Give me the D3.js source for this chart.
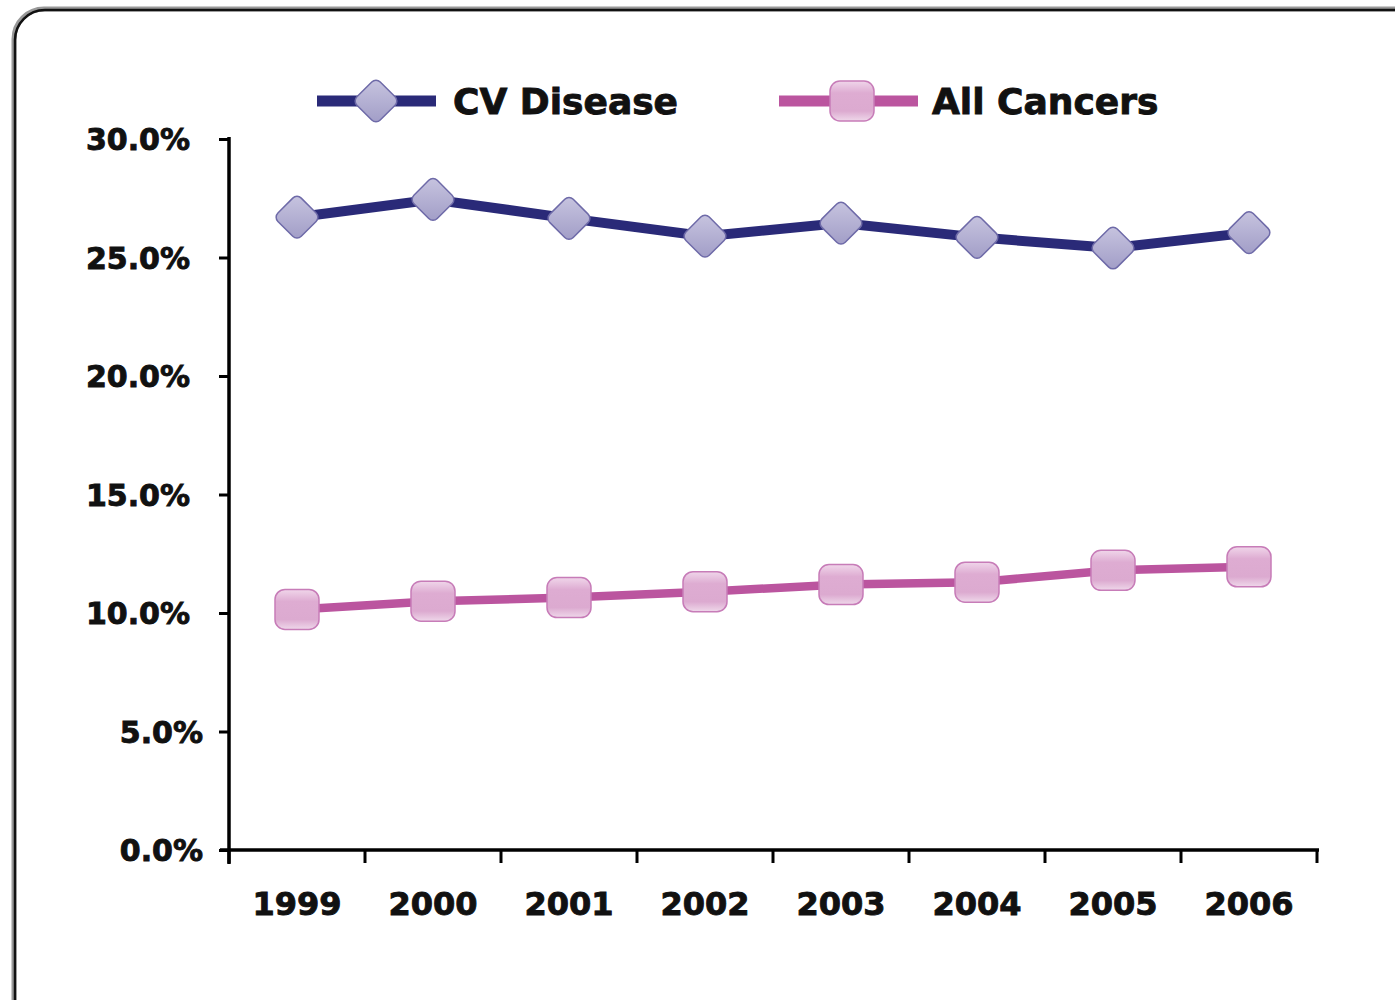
<!DOCTYPE html>
<html lang="en">
  <head>
    <meta charset="UTF-8" />
    <title>CV Disease vs All Cancers</title>
    <style>
      body { margin: 0; background: #fff; }
      svg text { font-family: "DejaVu Sans", sans-serif; font-weight: bold; fill: #111; stroke: #111; stroke-width: 0.9px; }
    </style>
  </head>
  <body>
    <div class="chart"></div>

    <script src="https://cdn.jsdelivr.net/npm/d3@7"></script>
    <script>
    // data
    var years = ["1999", "2000", "2001", "2002", "2003", "2004", "2005", "2006"];
    var cvDisease = [26.7, 27.45, 26.65, 25.9, 26.45, 25.85, 25.4, 26.05];
    var allCancers = [10.15, 10.5, 10.65, 10.9, 11.2, 11.3, 11.8, 11.95];
    var yTicks = [0, 5, 10, 15, 20, 25, 30];
    var seriesNames = ["CV Disease", "All Cancers"];

    var w = 1395, h = 1000;
    var svg = d3.select(".chart").append("svg")
      .attr("width", w)
      .attr("height", h);

    var defs = svg.append("defs");
    var g1 = defs.append("linearGradient").attr("id", "cvFill")
      .attr("x1", 0).attr("y1", 0).attr("x2", 1).attr("y2", 1);
    g1.append("stop").attr("offset", "0%").attr("stop-color", "#c8c5e0");
    g1.append("stop").attr("offset", "100%").attr("stop-color", "#a09cc6");
    var g2 = defs.append("linearGradient").attr("id", "caFill")
      .attr("x1", 0).attr("y1", 0).attr("x2", 0).attr("y2", 1);
    g2.append("stop").attr("offset", "0%").attr("stop-color", "#f0d6ea");
    g2.append("stop").attr("offset", "30%").attr("stop-color", "#deacd2");
    g2.append("stop").attr("offset", "75%").attr("stop-color", "#dcaad0");
    g2.append("stop").attr("offset", "100%").attr("stop-color", "#efd8ea");

    // frame
    svg.append("rect")
      .attr("x", 14).attr("y", 9)
      .attr("width", 1430).attr("height", 1030)
      .attr("rx", 30)
      .attr("fill", "none")
      .attr("stroke", "#999")
      .attr("stroke-width", 5);
    svg.append("rect")
      .attr("x", 15).attr("y", 10)
      .attr("width", 1430).attr("height", 1030)
      .attr("rx", 30)
      .attr("fill", "none")
      .attr("stroke", "#111")
      .attr("stroke-width", 2.5);

    var x = d3.scaleBand().domain(years).range([229, 1317]);
    var y = d3.scaleLinear().domain([0, 30]).range([850, 139]);

    // y axis
    var yAxis = svg.append("g").attr("transform", "translate(229,0)")
      .call(d3.axisLeft(y).tickValues(yTicks).tickSize(10).tickFormat(function(d) { return d.toFixed(1) + "%"; }));
    yAxis.select(".domain").remove();
    yAxis.append("line").attr("x1", 0).attr("x2", 0).attr("y1", 137).attr("y2", 864)
      .attr("stroke", "#000").attr("stroke-width", 3.5);
    yAxis.selectAll(".tick line").attr("stroke", "#000").attr("stroke-width", 3);
    yAxis.selectAll(".tick text")
      .attr("x", function(d) { return d < 10 ? -26 : -39; })
      .attr("dy", "0.36em")
      .style("font-size", "30px")
      .style("font-family", "DejaVu Sans")
      .style("font-weight", "bold")
      .attr("fill", "#111");

    // x axis
    var xAxis = svg.append("g").attr("transform", "translate(0,850)");
    xAxis.append("line").attr("x1", 220).attr("x2", 1319).attr("y1", 0).attr("y2", 0)
      .attr("stroke", "#000").attr("stroke-width", 3.5);
    var edges = years.map(function(d) { return x(d); }).concat([x.range()[1]]);
    xAxis.selectAll(".xt").data(edges).enter().append("line")
      .attr("x1", function(d) { return d; }).attr("x2", function(d) { return d; })
      .attr("y1", 0).attr("y2", 13)
      .attr("stroke", "#000").attr("stroke-width", 3);
    xAxis.selectAll(".xl").data(years).enter().append("text")
      .attr("x", function(d) { return x(d) + x.bandwidth() / 2; })
      .attr("y", 65)
      .attr("text-anchor", "middle")
      .style("font-size", "32px")
      .text(function(d) { return d; });

    var cx = function(d, i) { return x(years[i]) + x.bandwidth() / 2; };
    var line = d3.line().x(cx).y(function(d) { return y(d); });

    function diamond(sel) {
      sel.append("rect")
        .attr("x", -16.5).attr("y", -16.5).attr("width", 33).attr("height", 33)
        .attr("rx", 6)
        .attr("transform", "rotate(45)")
        .attr("fill", "url(#cvFill)")
        .attr("stroke", "#6e6aa8")
        .attr("stroke-width", 1.5);
    }
    function pill(sel) {
      sel.append("rect")
        .attr("x", -22).attr("y", -20).attr("width", 44).attr("height", 40)
        .attr("rx", 10)
        .attr("fill", "url(#caFill)")
        .attr("stroke", "#c77cb8")
        .attr("stroke-width", 1.5);
    }

    // series lines
    svg.append("path").datum(cvDisease)
      .attr("d", line).attr("fill", "none")
      .attr("stroke", "#2a2a78").attr("stroke-width", 10);
    svg.append("path").datum(allCancers)
      .attr("d", line).attr("fill", "none")
      .attr("stroke", "#bb559f").attr("stroke-width", 8.5);

    svg.selectAll(".cv").data(cvDisease).enter().append("g")
      .attr("transform", function(d, i) { return "translate(" + cx(d, i) + "," + y(d) + ")"; })
      .call(diamond);
    svg.selectAll(".ca").data(allCancers).enter().append("g")
      .attr("transform", function(d, i) { return "translate(" + cx(d, i) + "," + y(d) + ")"; })
      .call(pill);

    // legend
    var leg = svg.append("g");
    leg.append("line").attr("x1", 317).attr("x2", 436).attr("y1", 101).attr("y2", 101)
      .attr("stroke", "#2a2a78").attr("stroke-width", 11);
    leg.append("g").attr("transform", "translate(376,101)").call(diamond);
    leg.append("text").attr("x", 453).attr("y", 114).style("font-size", "36px").text(seriesNames[0]);

    leg.append("line").attr("x1", 779).attr("x2", 918).attr("y1", 101).attr("y2", 101)
      .attr("stroke", "#bb559f").attr("stroke-width", 11);
    leg.append("g").attr("transform", "translate(852,101)").call(pill);
    leg.append("text").attr("x", 932).attr("y", 114).style("font-size", "36px").text(seriesNames[1]);
    </script>
  </body>
</html>
